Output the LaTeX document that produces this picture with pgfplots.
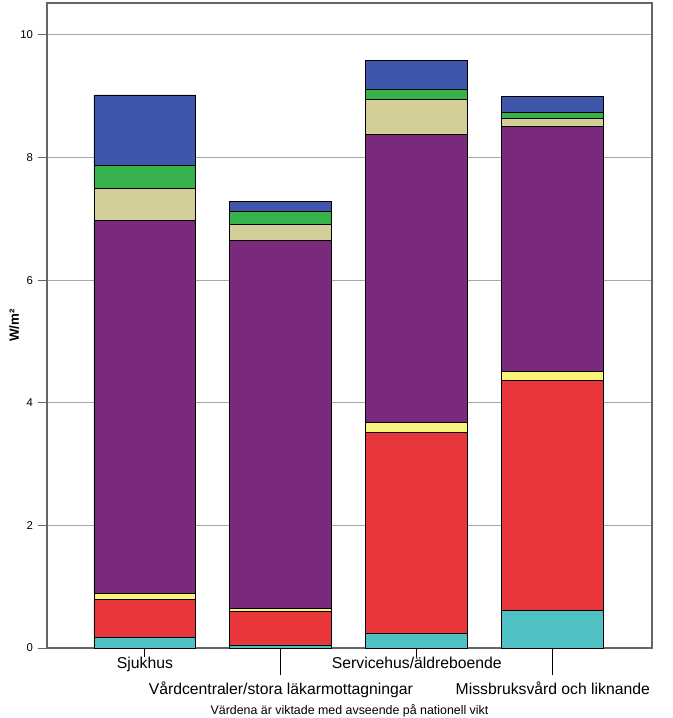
\documentclass[border=0pt]{standalone}
\usepackage{pgfplots}
\pgfplotsset{compat=1.18}
\usepackage{fontspec}
\setmainfont{Liberation Sans}

\definecolor{cteal}{HTML}{4FC0C4}
\definecolor{cred}{HTML}{E8363A}
\definecolor{cyel}{HTML}{F8F47A}
\definecolor{cpurp}{HTML}{7A2A7C}
\definecolor{ctan}{HTML}{D4CF98}
\definecolor{cgreen}{HTML}{35B34A}
\definecolor{cblue}{HTML}{3F57AA}

\begin{document}
\begin{tikzpicture}
\begin{axis}[
    scale only axis,
    width=453.75pt, height=483.75pt,
    ybar stacked,
    bar width=0.75,
    xmin=-0.72, xmax=3.73,
    ymin=0, ymax=10.52,
    ytick={0,2,4,6,8,10},
    ymajorgrids,
    grid style={gray!70, line width=0.6pt},
    axis line style={gray!80!black, line width=0.8pt},
    tick align=outside,
    ytick pos=left,
    xtick pos=bottom,
    major tick length=7pt,
    ytick style={gray!80!black, line width=0.6pt},
    xtick style={black, line width=0.8pt},
    xtick={0,2},
    xticklabels={Sjukhus, Servicehus/äldreboende},
    x tick label style={font=\fontsize{11.8}{14}\selectfont, yshift=4pt},
    extra x ticks={1,3},
    extra x tick labels={Vårdcentraler/stora läkarmottagningar, Missbruksvård och liknande},
    extra x tick style={grid=none, major tick length=20pt,
        tick label style={yshift=-5.5pt}},
    /pgf/number format/assume math mode=true,
    y tick label style={font=\fontsize{8.5}{10}\selectfont},
    ylabel={\bfseries W/m²},
    ylabel style={font=\fontsize{10}{12}\selectfont, yshift=-6pt},
    xlabel={Värdena är viktade med avseende på nationell vikt},
    xlabel style={font=\fontsize{9.3}{11}\selectfont, inner sep=1pt, yshift=7pt},
    every axis plot/.append style={draw=black, line width=0.6pt},
    after end axis/.code={
        \path (rel axis cs:1,1) ++(15pt,2.25pt) coordinate (rm);
        \path (rel axis cs:0,0) ++(-35.25pt,0) coordinate (lm);
    },
]
% teal
\addplot[fill=cteal] coordinates {(0,0.17) (1,0.05) (2,0.24) (3,0.61)};
% red
\addplot[fill=cred] coordinates {(0,0.62) (1,0.55) (2,3.28) (3,3.75)};
% yellow
\addplot[fill=cyel] coordinates {(0,0.10) (1,0.05) (2,0.16) (3,0.15)};
% purple
\addplot[fill=cpurp] coordinates {(0,6.08) (1,5.99) (2,4.69) (3,3.99)};
% tan
\addplot[fill=ctan] coordinates {(0,0.52) (1,0.27) (2,0.58) (3,0.13)};
% green
\addplot[fill=cgreen] coordinates {(0,0.38) (1,0.21) (2,0.16) (3,0.11)};
% blue
\addplot[fill=cblue] coordinates {(0,1.15) (1,0.16) (2,0.48) (3,0.25)};
\end{axis}
\end{tikzpicture}
\end{document}
